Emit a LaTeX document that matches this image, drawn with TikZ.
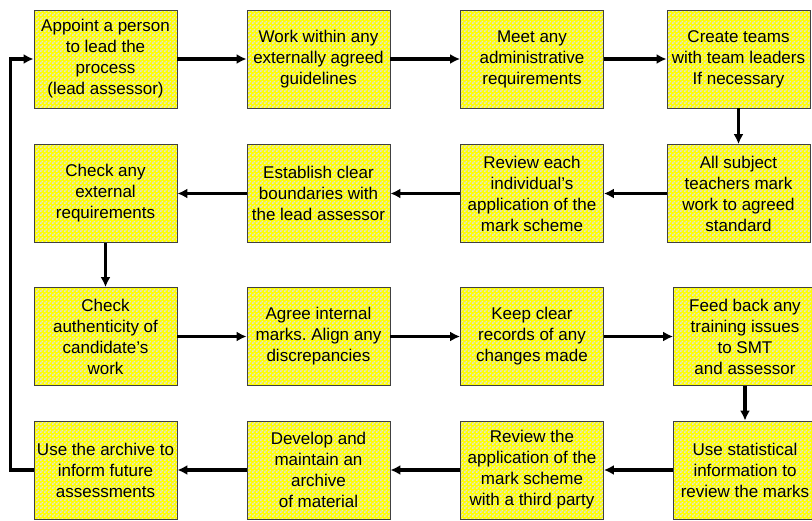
\documentclass[tikz,border=0pt]{standalone}
\usepackage{fontspec}
\setmainfont{Liberation Sans}
\usetikzlibrary{arrows.meta,patterns}
\usepackage{xcolor}
\definecolor{boxyellow}{RGB}{255,255,0}
\definecolor{checkgrey}{RGB}{228,228,205}
\pgfdeclarepatternformonly{checker}{\pgfpointorigin}{\pgfpoint{4pt}{4pt}}{\pgfpoint{4pt}{4pt}}{%
	\pgfpathrectangle{\pgfpointorigin}{\pgfpoint{2pt}{2pt}}%
	\pgfpathrectangle{\pgfpoint{2pt}{2pt}}{\pgfpoint{2pt}{2pt}}%
	\pgfusepath{fill}}
\frenchspacing

\begin{document}
\begin{tikzpicture}[x=1pt, y=-1pt,
	stage/.style={draw=black!75, line width=0.8pt, preaction={fill=boxyellow},
		pattern=checker, pattern color=checkgrey,
		minimum width=143pt, minimum height=98pt, inner sep=0pt, align=center,
		font=\fontsize{17}{21}\selectfont},
	flow/.style={line width=3.4pt, -{Latex[length=10pt, width=10pt]}}]
	\useasboundingbox (0,0) rectangle (812,520);
	% row 1
	\node (lead) [stage] at (105.5, 59) {Appoint a person\\to lead the\\process\\(lead assessor)};
	\node (guide) [stage] at (318.5, 59) {Work within any\\externally agreed\\guidelines};
	\node (admin) [stage] at (532, 59) {Meet any\\administrative\\requirements};
	\node (teams) [stage] at (738.5, 59) {Create teams\\with team leaders\\If necessary};
	% row 2
	\node (extreq) [stage] at (105.5, 193.5) {Check any\\external\\requirements};
	\node (bound) [stage] at (318.5, 193.5) {Establish clear\\boundaries with\\the lead assessor};
	\node (review) [stage] at (532, 193.5) {Review each\\individual’s\\application of the\\mark scheme};
	\node (subject) [stage] at (738.5, 193.5) {All subject\\teachers mark\\work to agreed\\standard};
	% row 3
	\node (auth) [stage] at (105.5, 336.5) {Check\\authenticity of\\candidate’s\\work};
	\node (agree) [stage] at (318.5, 336.5) {Agree internal\\marks. Align any\\discrepancies};
	\node (records) [stage] at (532, 336.5) {Keep clear\\records of any\\changes made};
	\node (feed) [stage] at (745, 336.5) {Feed back any\\training issues\\to SMT\\and assessor};
	% row 4
	\node (archive) [stage] at (105.5, 470) {Use the archive to\\inform future\\assessments};
	\node (develop) [stage] at (318.5, 470) {Develop and\\maintain an\\archive\\of material};
	\node (third) [stage] at (532, 470) {Review the\\application of the\\mark scheme\\with a third party};
	\node (stats) [stage] at (745, 470) {Use statistical\\information to\\review the marks};

	\draw[flow] (lead) -- (guide);
	\draw[flow] (guide) -- (admin);
	\draw[flow] (admin) -- (teams);
	\draw[flow] (teams) -- (subject);
	\draw[flow] (subject) -- (review);
	\draw[flow] (review) -- (bound);
	\draw[flow] (bound) -- (extreq);
	\draw[flow] (extreq) -- (auth);
	\draw[flow] (auth) -- (agree);
	\draw[flow] (agree) -- (records);
	\draw[flow] (records) -- (feed);
	\draw[flow] (feed) -- (stats);
	\draw[flow] (stats) -- (third);
	\draw[flow] (third) -- (develop);
	\draw[flow] (develop) -- (archive);
	\draw[flow] (archive.west) -- ++(-23,0) |- (lead.west);
\end{tikzpicture}
\end{document}
